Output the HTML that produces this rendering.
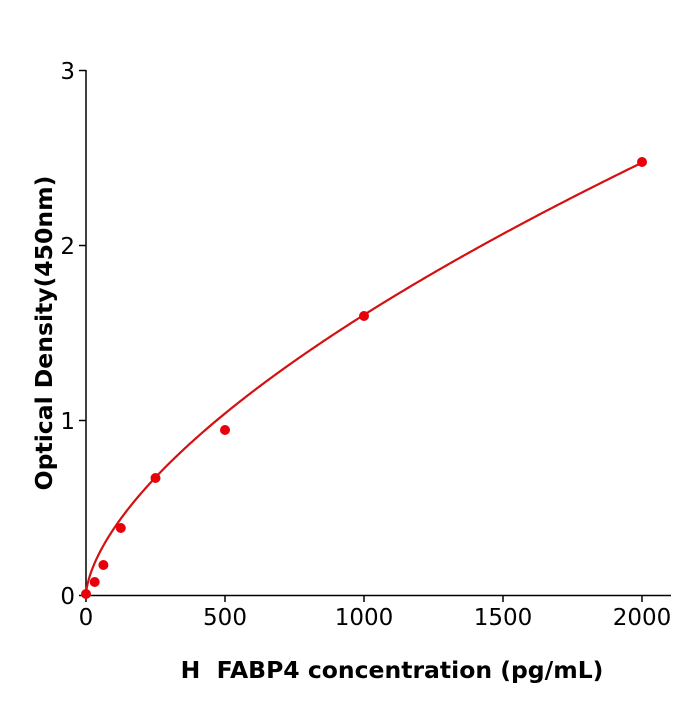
<!DOCTYPE html>
<html><head><meta charset="utf-8"><style>
html,body{margin:0;padding:0;background:#fff;}
svg text{font-family:"DejaVu Sans","Liberation Sans",sans-serif;}
</style></head><body>
<svg id="s" width="700" height="700" viewBox="0 0 700 700" xmlns="http://www.w3.org/2000/svg">
<rect width="700" height="700" fill="#fff"/>
<g stroke="#000" stroke-width="1.5" fill="none">
<line x1="86" y1="70" x2="86" y2="596"/>
<line x1="85" y1="595.5" x2="671" y2="595.5"/>
<line x1="79" y1="595.5" x2="86" y2="595.5"/>
<line x1="79" y1="420.5" x2="86" y2="420.5"/>
<line x1="79" y1="245.5" x2="86" y2="245.5"/>
<line x1="79" y1="70.5" x2="86" y2="70.5"/>
<line x1="86" y1="595" x2="86" y2="602"/>
<line x1="225" y1="595" x2="225" y2="602"/>
<line x1="364" y1="595" x2="364" y2="602"/>
<line x1="503" y1="595" x2="503" y2="602"/>
<line x1="642" y1="595" x2="642" y2="602"/>
</g>
<g font-size="23" fill="#000" text-anchor="end">
<text x="75" y="604">0</text>
<text x="75" y="429">1</text>
<text x="75" y="254">2</text>
<text x="75" y="79">3</text>
</g>
<g font-size="23" fill="#000" text-anchor="middle">
<text x="86" y="625">0</text>
<text x="225" y="625">500</text>
<text x="364" y="625">1000</text>
<text x="503" y="625">1500</text>
<text x="642" y="625">2000</text>
</g>
<text x="392" y="678" font-size="23.5" font-weight="bold" text-anchor="middle">H&#160; FABP4 concentration (pg/mL)</text>
<text transform="translate(52,333) rotate(-90)" font-size="23.5" font-weight="bold" text-anchor="middle">Optical Density(450nm)</text>
<path id="c" fill="none" stroke="#d41010" stroke-width="2.2"/>
<g fill="#e8000b">
<circle cx="86" cy="594" r="5"/>
<circle cx="94.7" cy="582" r="5"/>
<circle cx="103.4" cy="565" r="5"/>
<circle cx="120.8" cy="528" r="5"/>
<circle cx="155.5" cy="478" r="5"/>
<circle cx="225" cy="430" r="5"/>
<circle cx="364" cy="316" r="5"/>
<circle cx="642" cy="162" r="5"/>
</g>
</svg>
<script>
var d="";for(var i=0;i<=400;i++){var x=2000*Math.pow(i/400,2);var y=0.0212*Math.pow(x,0.626);var px=86+x*0.278,py=595-y*175;d+=(i?"L":"M")+px.toFixed(2)+","+py.toFixed(2);}
document.getElementById("c").setAttribute("d",d);
</script>
</body></html>
